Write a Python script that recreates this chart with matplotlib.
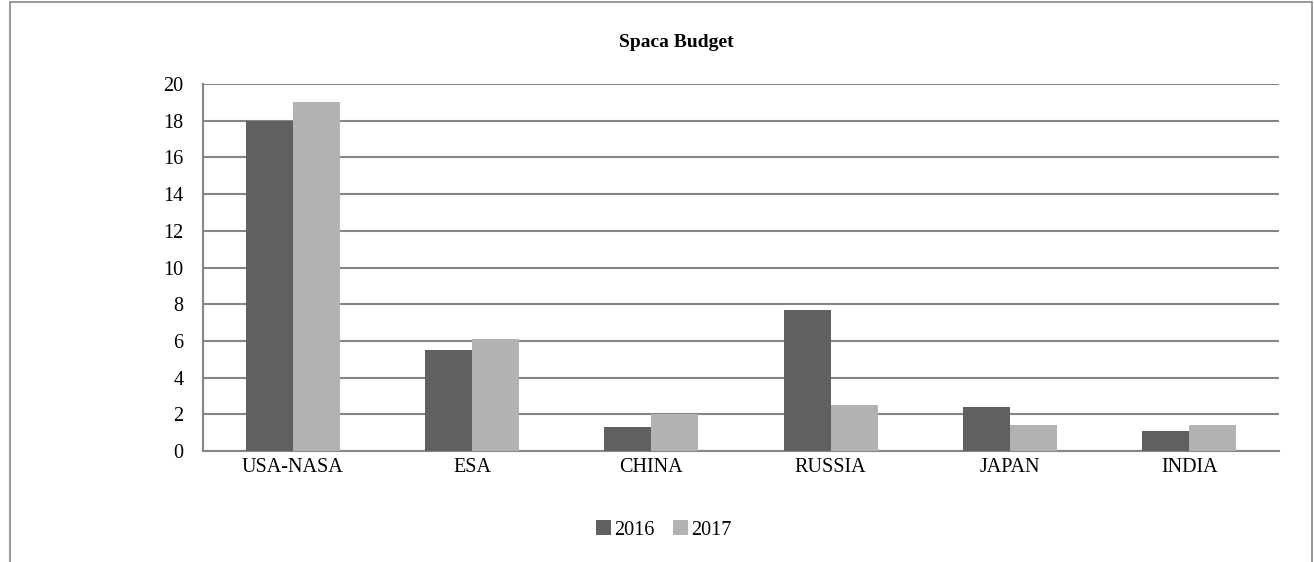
import matplotlib.pyplot as plt
import matplotlib.patches as patches
import numpy as np

plt.rcParams['font.family'] = ['Liberation Serif', 'DejaVu Serif']

categories = ["USA-NASA", "ESA", "CHINA", "RUSSIA", "JAPAN", "INDIA"]
y2016 = [18, 5.5, 1.3, 7.7, 2.4, 1.1]
y2017 = [19, 6.1, 2.0, 2.5, 1.4, 1.4]

fig = plt.figure(figsize=(13.14, 5.62), dpi=100)
ax = fig.add_axes([0.1545, 0.1975, 0.8189, 0.653])

x = np.arange(len(categories))
w = 0.262
ax.bar(x - w/2, y2016, w, color="#606060", label="2016", zorder=3)
ax.bar(x + w/2, y2017, w, color="#b2b2b2", label="2017", zorder=3)

ax.set_xlim(-0.5, len(categories) - 0.5)
ax.set_ylim(0, 20)
ax.set_yticks(range(0, 21, 2))
ax.set_xticks(x)
ax.set_xticklabels(categories)
ax.tick_params(length=0, labelsize=14.5, colors="black")
ax.tick_params(axis="x", pad=5)
ax.tick_params(axis="y", pad=14)
ax.yaxis.grid(True, color="#868686", linewidth=1.5, zorder=0)

for s in ["top", "right"]:
    ax.spines[s].set_visible(False)
for s in ["left", "bottom"]:
    ax.spines[s].set_color("#868686")
    ax.spines[s].set_linewidth(1.5)

fig.text(0.515, 0.925, "Spaca Budget", ha="center", va="center",
         fontsize=14, fontweight="bold")

ax.legend(loc="center", bbox_to_anchor=(0.428, -0.215), ncol=2, frameon=False,
          fontsize=14.5, handlelength=0.75, handleheight=0.75, handletextpad=0.15,
          columnspacing=0.9, borderpad=0)

# outer chart border
border = patches.Rectangle((10/1314, -0.1), 1302/1314, 1.1 - 2/562,
                           transform=fig.transFigure, fill=False,
                           edgecolor="#868686", linewidth=1.2, clip_on=False)
fig.add_artist(border)

fig.savefig("out.png", dpi=100)
